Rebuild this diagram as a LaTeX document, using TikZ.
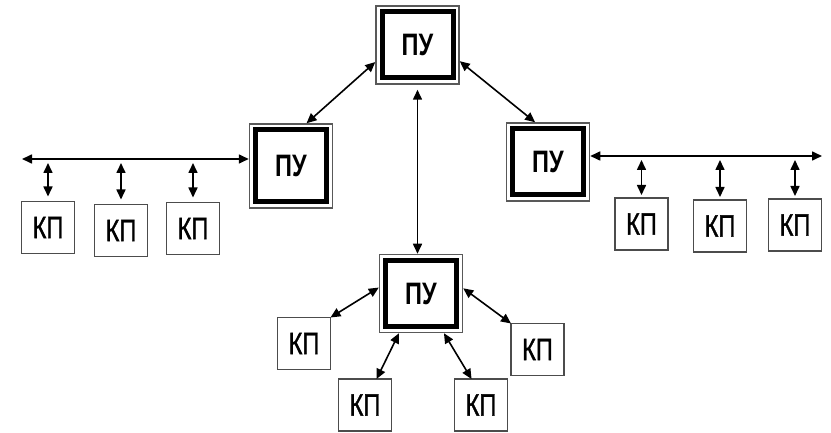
\documentclass[tikz,border=0pt]{standalone}
\usepackage{fontspec}
\newfontfamily\boxfont[FakeStretch=0.76]{Liberation Sans}
\newfontfamily\kpfont[FakeStretch=0.76,FakeBold=1.2]{Liberation Sans}
\usetikzlibrary{arrows.meta,fit}

\tikzset{
  pu/.style={draw=black, line width=5pt, outer sep=0pt,
    minimum width=71pt, minimum height=66pt,
    font=\boxfont\fontsize{31}{31}\selectfont\bfseries},
  puframe/.style={draw=black!65, line width=1.5pt, inner sep=6pt},
  kp/.style={draw=black!70, line width=1.3pt, outer sep=0pt,
    minimum width=53pt, minimum height=52pt,
    font=\kpfont\fontsize{31}{31}\selectfont},
  link/.style={line width=1.6pt, {Triangle[length=10pt,width=9pt]}-{Triangle[length=10pt,width=9pt]}}
}

\begin{document}
\begin{tikzpicture}[x=1pt, y=-1pt]

\useasboundingbox (0,0) rectangle (831,433);

% Control units
\node[pu] (top) at (417.5, 45) {ПУ};
\node[pu, minimum height=72pt] (left) at (291, 166) {ПУ};
\node[pu] (right) at (548, 162) {ПУ};
\node[pu] (bottom) at (421, 293.5) {ПУ};

% Thin outer frame round each control unit
\foreach \n in {top, left, right, bottom}
  \node[puframe, fit=(\n)] (\n-f) {};

% Controlled points
\node[kp] (kpL1) at (48, 227.5) {КП};
\node[kp] (kpL2) at (121, 230.5) {КП};
\node[kp] (kpL3) at (193, 228.5) {КП};

\node[kp] (kpR1) at (641.5, 224) {КП};
\node[kp] (kpR2) at (720, 226) {КП};
\node[kp] (kpR3) at (795, 225) {КП};

\node[kp] (kpB1) at (304, 343.5) {КП};
\node[kp] (kpB2) at (365, 405) {КП};
\node[kp] (kpB3) at (481, 405) {КП};
\node[kp] (kpB4) at (537.5, 349.5) {КП};

% Bus ends
\coordinate (busL) at (22, 159);
\coordinate (busR) at (822, 156);

% Links between control units
\draw[link] (left-f.70) -- (top-f.202);
\draw[link] (top-f.339) -- (right-f.108);
\draw[link, shorten <=5pt] (top-f.south) -- (top-f.south |- bottom-f.north);

% Left bus
\draw[link] (busL) -- (busL -| left-f.west);
\foreach \k in {kpL1, kpL2, kpL3}
  \draw[link, shorten <=5pt, shorten >=4pt] (\k.north) -- (\k.north |- busL);

% Right bus
\draw[link] (busR -| right-f.east) -- (busR);
\foreach \k in {kpR1, kpR2, kpR3}
  \draw[link, shorten <=3pt, shorten >=4pt] (\k.north) -- (\k.north |- busR);

% Star round the bottom unit
\draw[link] (kpB1.north east) -- (bottom-f.172);
\draw[link] (kpB2.66) -- (bottom-f.241);
\draw[link] (kpB3.110) -- (bottom-f.300);
\draw[link] (kpB4.north west) -- (bottom-f.7);

\end{tikzpicture}
\end{document}
